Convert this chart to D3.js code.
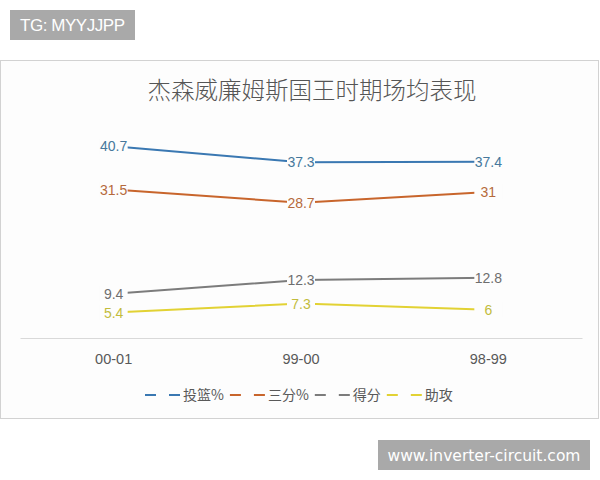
<!DOCTYPE html>
<html>
<head>
<meta charset="utf-8">
<script src="https://cdn.jsdelivr.net/npm/d3@7"></script>
<style>
  body { margin: 0; background: #fff; }
  svg { display: block; }
</style>
</head>
<body>
<svg id="chart" width="600" height="480"></svg>
<script>
// season order as shown on the axis
const seasons = ["00-01", "99-00", "98-99"];
const seriesNames = ["投篮%", "三分%", "得分", "助攻"];
const fgPct = [40.7, 37.3, 37.4];
const threePct = [31.5, 28.7, 31];
const pointsPerGame = [9.4, 12.3, 12.8];
const assistsPerGame = [5.4, 7.3, 6];
const title = "杰森威廉姆斯国王时期场均表现";

const lineColors = ["#3a78b2", "#c8652c", "#7c7c7c", "#e2d234"];
const labelColors = ["#46789c", "#b56a3c", "#6e6e6e", "#c2bc3c"];

const series = [fgPct, threePct, pointsPerGame, assistsPerGame].map((values, i) => ({
  name: seriesNames[i],
  values: values.map((v, j) => ({season: seasons[j], value: v}))
}));

const svg = d3.select("#chart");
const cjk = "'Noto Sans CJK SC', 'Noto Sans', sans-serif";
const latin = "'Liberation Sans', Arial, sans-serif";
const bg = "#fdfdfd";

// watermark top-left
svg.append("rect").attr("x", 10).attr("y", 10).attr("width", 125).attr("height", 30).attr("fill", "#a9a9a9");
svg.append("text").attr("x", 20).attr("y", 31)
    .attr("fill", "#fff").attr("font-family", latin).attr("font-size", 17)
    .attr("textLength", 105)
    .text("TG: MYYJJPP");

// chart frame
svg.append("rect")
    .attr("x", 0.5).attr("y", 60.5).attr("width", 598).attr("height", 358)
    .attr("fill", bg).attr("stroke", "#d2d2d2");

svg.append("text")
    .attr("x", 312).attr("y", 99)
    .attr("text-anchor", "middle")
    .attr("font-family", cjk).attr("font-weight", 300)
    .attr("font-size", 23.5).attr("fill", "#555")
    .text(title);

const x = d3.scaleBand().domain(seasons).range([20, 582]);
const y = d3.scaleLinear().domain([0, 45]).range([338, 126]);
const cx = d => x(d) + x.bandwidth() / 2;

// category axis
const xAxis = svg.append("g")
    .attr("transform", "translate(0,338)")
    .call(d3.axisBottom(x).tickSize(0).tickPadding(0));
xAxis.select(".domain").attr("stroke", "#d9d9d9");
xAxis.selectAll("text")
    .attr("dy", null).attr("y", 26)
    .attr("font-family", latin).attr("font-size", 14.5).attr("fill", "#595959");

const line = d3.line().x(d => cx(d.season)).y(d => y(d.value));

svg.append("g")
  .selectAll("path")
  .data(series)
  .join("path")
    .attr("fill", "none")
    .attr("stroke", (d, i) => lineColors[i])
    .attr("stroke-width", 2)
    .attr("d", d => line(d.values));

// data labels sit on a background box that breaks the line
const labels = svg.append("g")
  .selectAll("g")
  .data(series.flatMap((s, i) => s.values.map(v => ({...v, i}))))
  .join("g")
    .attr("transform", d => `translate(${cx(d.season)},${y(d.value)})`);

labels.append("rect")
    .attr("x", -14).attr("y", -8).attr("width", 28).attr("height", 16)
    .attr("fill", bg);

labels.append("text")
    .attr("text-anchor", "middle")
    .attr("dy", "0.36em")
    .attr("font-family", latin).attr("font-size", 14)
    .attr("fill", d => labelColors[d.i])
    .text(d => d.value);

// legend
const legend = svg.append("g").attr("transform", "translate(0,395)");
let lx = 145;
series.forEach((s, i) => {
  legend.append("line")
      .attr("x1", lx).attr("x2", lx + 35)
      .attr("stroke", lineColors[i]).attr("stroke-width", 2)
      .attr("stroke-dasharray", "11,13");
  const t = legend.append("text")
      .attr("x", lx + 38).attr("dy", "0.36em")
      .attr("font-family", cjk).attr("font-size", 14).attr("fill", "#595959")
      .text(s.name);
  lx += 38 + t.node().getComputedTextLength() + 6;
});

// watermark bottom-right
svg.append("rect").attr("x", 378).attr("y", 440).attr("width", 212).attr("height", 30).attr("fill", "#a9a9a9");
svg.append("text").attr("x", 484).attr("y", 461)
    .attr("text-anchor", "middle")
    .attr("fill", "#fff").attr("font-family", "'DejaVu Sans', sans-serif").attr("font-size", 15.5)
    .text("www.inverter-circuit.com");
</script>
</body>
</html>
